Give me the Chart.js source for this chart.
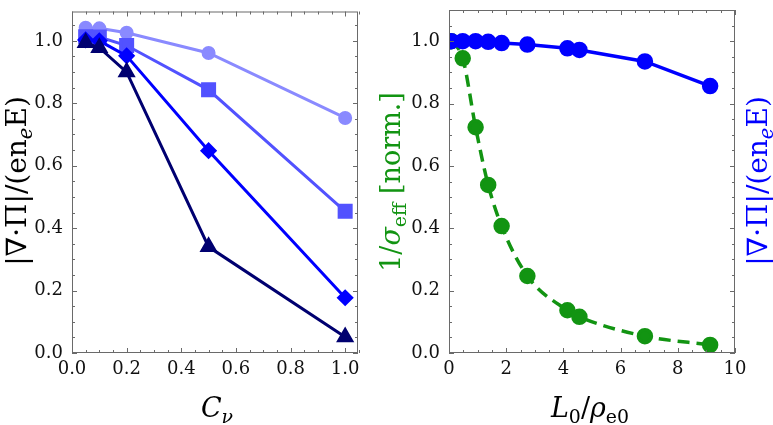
<!DOCTYPE html>
<html>
<head>
<meta charset="utf-8">
<script src="https://cdn.jsdelivr.net/npm/chart.js@4.4.1/dist/chart.umd.min.js"></script>
<style>
  html, body { margin: 0; padding: 0; background: #fff; }
  #wrap { position: relative; width: 773px; height: 425px; overflow: hidden; }
  canvas { position: absolute; top: 0; }
  #left { left: 0; }
  #right { left: 370px; }
</style>
</head>
<body>
<div id="wrap">
  <canvas id="left" width="370" height="425"></canvas>
  <canvas id="right" width="403" height="425"></canvas>
</div>
<script>
// left panel: C_nu scan
const cnuValues = [0.05, 0.1, 0.2, 0.5, 1.0];
const circleSeries = [1.042, 1.04, 1.026, 0.961, 0.753];
const squareSeries = [1.013, 1.012, 0.985, 0.843, 0.454];
const diamondSeries = [1.003, 1.0, 0.952, 0.648, 0.177];
const triangleSeries = [0.994, 0.978, 0.90, 0.34, 0.051];
const leftXTicks = [0, 0.2, 0.4, 0.6, 0.8, 1.0];

// right panel: L0/rho_e0 scan
const lRatio = [0.08, 0.48, 0.93, 1.37, 1.84, 2.74, 4.14, 4.56, 6.85, 9.13];
const sigmaInv = [1.0, 0.945, 0.724, 0.539, 0.407, 0.247, 0.137, 0.116, 0.054, 0.026];
const divPi = [1.0, 1.0, 1.0, 0.998, 0.994, 0.989, 0.977, 0.972, 0.935, 0.856];
const rightXTicks = [0, 2, 4, 6, 8, 10];

const yTicks = [0, 0.2, 0.4, 0.6, 0.8, 1.0];

const SERIF = "'DejaVu Serif', serif";
const GREEN = '#129412';
const BLUE = '#0000ff';

function pts(xs, ys) {
    return xs.map((x, i) => ({ x: x, y: ys[i] }));
}

// draws text made of pieces (normal / italic / subscript), centred on cx,cy
function drawRich(ctx, parts, cx, cy, angle, color, size) {
    ctx.save();
    ctx.translate(cx, cy);
    ctx.rotate(angle);
    ctx.fillStyle = color;
    ctx.textBaseline = 'alphabetic';
    let total = 0;
    parts.forEach(p => {
        const s = p.sub ? size * 0.7 : size;
        ctx.font = (p.italic ? 'italic ' : '') + s + 'px ' + SERIF;
        p.w = ctx.measureText(p.t).width;
        p.s = s;
        total += p.w;
    });
    let x = -total / 2;
    const base = size * 0.36;
    parts.forEach(p => {
        ctx.font = (p.italic ? 'italic ' : '') + p.s + 'px ' + SERIF;
        ctx.fillText(p.t, x, base + (p.sub ? size * 0.22 : 0));
        x += p.w;
    });
    ctx.restore();
}

// frame with inward major/minor ticks on all four sides
const frameTicks = {
    id: 'frameTicks',
    afterDraw(chart, args, opts) {
        const { ctx, chartArea: a, scales: { x, y } } = chart;
        ctx.save();
        ctx.strokeStyle = '#6a6a6a';
        ctx.lineWidth = 1;
        ctx.strokeRect(a.left + 0.5, a.top + 0.5, a.right - a.left - 1, a.bottom - a.top - 1);
        ctx.beginPath();
        const nx = Math.round((x.max - x.min) / opts.xMinor);
        for (let i = 0; i <= nx; i++) {
            const v = x.min + i * opts.xMinor;
            const len = (i % opts.xEvery === 0) ? 5 : 3;
            const px = Math.round(x.getPixelForValue(v)) + 0.5;
            ctx.moveTo(px, a.bottom); ctx.lineTo(px, a.bottom - len);
            ctx.moveTo(px, a.top); ctx.lineTo(px, a.top + len);
        }
        const ny = Math.floor((y.max - y.min) / 0.05 + 1e-6);
        for (let i = 0; i <= ny; i++) {
            const v = y.min + i * 0.05;
            const len = (i % 4 === 0) ? 5 : 3;
            const py = Math.round(y.getPixelForValue(v)) + 0.5;
            ctx.moveTo(a.left, py); ctx.lineTo(a.left + len, py);
            ctx.moveTo(a.right, py); ctx.lineTo(a.right - len, py);
        }
        ctx.stroke();
        ctx.restore();
        opts.titles(ctx, a);
    }
};

function axes(xMax, xTicks, xFmt, yMax, yWidth) {
    return {
        x: {
            type: 'linear', min: 0, max: xMax,
            grid: { display: false, drawTicks: false },
            border: { display: false },
            afterBuildTicks: s => { s.ticks = xTicks.map(v => ({ value: v })); },
            afterFit: s => { s.height = 72; s.paddingLeft = 0; s.paddingRight = 0; },
            ticks: {
                autoSkip: false, maxRotation: 0, padding: 6, color: '#111',
                font: { family: SERIF, size: 18 },
                callback: xFmt
            }
        },
        y: {
            type: 'linear', min: 0, max: yMax,
            grid: { display: false, drawTicks: false },
            border: { display: false },
            afterBuildTicks: s => { s.ticks = yTicks.map(v => ({ value: v })); },
            afterFit: s => { s.width = yWidth; s.paddingTop = 0; s.paddingBottom = 0; },
            ticks: {
                autoSkip: false, padding: 9, color: '#111',
                font: { family: SERIF, size: 18 },
                callback: v => v.toFixed(1)
            }
        }
    };
}

const divPiTitle = [
    { t: '|∇·Π|/(en' }, { t: 'e', italic: true, sub: true }, { t: 'E)' }
];

new Chart(document.getElementById('left'), {
    type: 'line',
    data: {
        datasets: [{
            data: pts(cnuValues, triangleSeries),
            borderColor: '#000070', backgroundColor: '#000070',
            pointStyle: 'triangle', pointRadius: 7.5, borderWidth: 3
        }, {
            data: pts(cnuValues, diamondSeries),
            borderColor: '#0000ff', backgroundColor: '#0000ff',
            pointStyle: 'rectRot', pointRadius: 6.5, borderWidth: 3
        }, {
            data: pts(cnuValues, squareSeries),
            borderColor: '#5252ff', backgroundColor: '#5252ff',
            pointStyle: 'rect', pointRadius: 8.5, borderWidth: 3
        }, {
            data: pts(cnuValues, circleSeries),
            borderColor: '#8a8aff', backgroundColor: '#8a8aff',
            pointStyle: 'circle', pointRadius: 5.5, borderWidth: 3
        }]
    },
    options: {
        responsive: false,
        animation: false,
        layout: { padding: { top: 0, right: 12, left: 0, bottom: 0 } },
        elements: { point: { borderWidth: 0 }, line: { tension: 0 } },
        plugins: {
            legend: { display: false },
            tooltip: { enabled: false },
            frameTicks: {
                xMinor: 0.05, xEvery: 4,
                titles: (ctx, a) => {
                    drawRich(ctx, divPiTitle, 16, 181, -Math.PI / 2, '#000', 28);
                    drawRich(ctx, [{ t: 'C', italic: true }, { t: 'ν', italic: true, sub: true }],
                        217, 407, 0, '#000', 27);
                }
            }
        },
        scales: axes(1.047, leftXTicks, v => v.toFixed(1), 1.094, 72)
    },
    plugins: [frameTicks]
});

new Chart(document.getElementById('right'), {
    type: 'line',
    data: {
        datasets: [{
            data: pts(lRatio, divPi),
            borderColor: BLUE, backgroundColor: BLUE,
            pointStyle: 'circle', pointRadius: 6.5, borderWidth: 3.5
        }, {
            data: pts(lRatio, sigmaInv),
            borderColor: GREEN, backgroundColor: GREEN,
            pointStyle: 'circle', pointRadius: 6.5, borderWidth: 3.5,
            borderDash: [12, 7], cubicInterpolationMode: 'monotone'
        }]
    },
    options: {
        responsive: false,
        animation: false,
        layout: { padding: { top: 0, right: 38, left: 0, bottom: 0 } },
        elements: { point: { borderWidth: 0 }, line: { tension: 0 } },
        plugins: {
            legend: { display: false },
            tooltip: { enabled: false },
            frameTicks: {
                xMinor: 0.5, xEvery: 4,
                titles: (ctx, a) => {
                    drawRich(ctx, [
                        { t: '1/' }, { t: 'σ', italic: true }, { t: 'eff', sub: true }, { t: ' [norm.]' }
                    ], 20, 182, -Math.PI / 2, GREEN, 27);
                    drawRich(ctx, divPiTitle, 387, 181, -Math.PI / 2, BLUE, 28);
                    drawRich(ctx, [
                        { t: 'L', italic: true }, { t: '0', sub: true }, { t: '/' },
                        { t: 'ρ', italic: true }, { t: 'e0', sub: true }
                    ], 220, 407, 0, '#000', 27);
                }
            }
        },
        scales: axes(10, rightXTicks, v => String(v), 1.1, 79)
    },
    plugins: [frameTicks]
});
</script>
</body>
</html>
